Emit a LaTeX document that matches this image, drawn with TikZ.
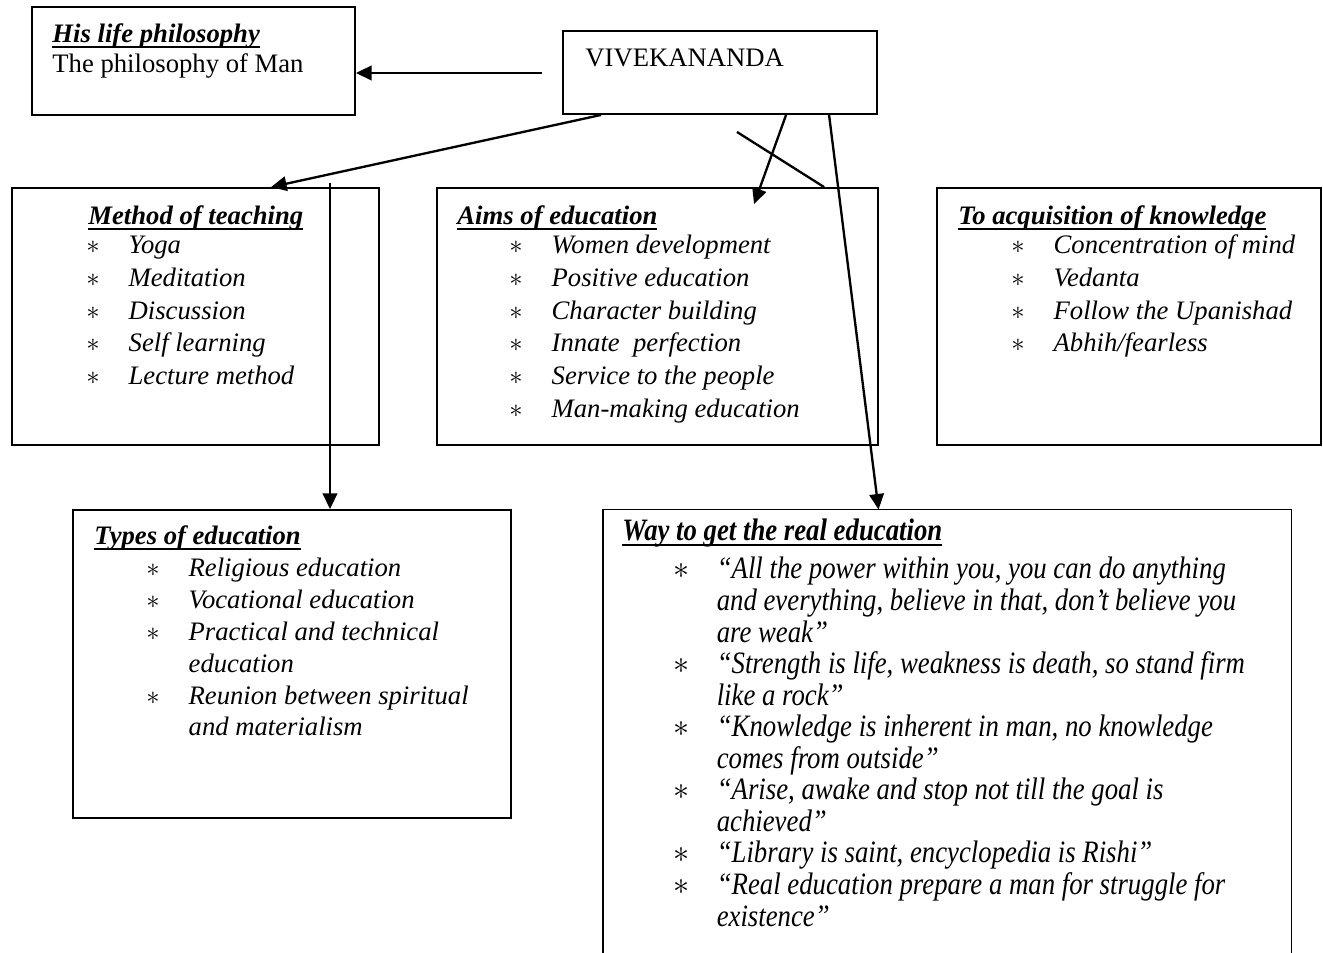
\documentclass[tikz,border=0pt]{standalone}
\usepackage{fontspec}
\setmainfont{Liberation Serif}
\newfontfamily\wayfont{Liberation Serif}[FakeStretch=0.86]
\usetikzlibrary{arrows.meta,calc,fit}
\newsavebox{\hdbox}
\newcommand{\hd}[1]{\sbox{\hdbox}{\textbf{\textit{#1}}}\rlap{\rule[-2.2pt]{\wd\hdbox}{0.9pt}}\usebox{\hdbox}}
\newcommand{\astr}{$\ast$}
\tikzset{
	box/.style={draw, line width=0.85pt, inner sep=0pt},
	arr/.style={line width=1.05pt, -{Triangle[length=7pt,width=6.5pt]}},
	hdtxt/.style={anchor=base west, inner sep=0pt, font=\fontsize{12}{13.5}\selectfont},
	lst/.style={anchor=base west, inner sep=0pt, font=\fontsize{12}{14.7}\selectfont\itshape},
	waylst/.style={anchor=base west, inner sep=0pt, font=\wayfont\fontsize{14}{14.2}\selectfont\itshape}
}
\begin{document}
\begin{tikzpicture}[x=0.45pt, y=-0.45pt]
	\useasboundingbox[fill=white] (0,0) rectangle (1323,953);
	% boxes
	\node[box, fit={(32,7) (355,115)}] (life) {};
	\node[box, fit={(563,31) (877,114)}] (viv) {};
	\node[box, fit={(12,188) (379,445)}] (method) {};
	\node[box, fit={(437,188) (878,445)}] (aims) {};
	\node[box, fit={(937,188) (1321,445)}] (know) {};
	\node[box, fit={(73,510) (511,818)}] (types) {};
	\node[inner sep=0pt, fit={(603,510) (1291,960)}] (way) {};
	\draw[line width=0.85pt] (way.south west) -- (way.north west) -- (way.north east) -- (way.south east);
	% texts
	\node[hdtxt] (lifehd) at (52,43) {\hd{His life philosophy}};
	\node[hdtxt] (lifetxt) at (52,73) {The philosophy of Man};
	\node[hdtxt] (vivtxt) at (585,67) {VIVEKANANDA};
	\node[hdtxt] (methodhd) at (88,225) {\hd{Method of teaching}};
	\node[lst] (methodlst) at (86,254) {\begin{tabular}[t]{@{}p{19pt}@{}l@{}}
		\astr & Yoga\\ \astr & Meditation\\ \astr & Discussion\\
		\astr & Self learning\\ \astr & Lecture method
	\end{tabular}};
	\node[hdtxt] (aimshd) at (457,225) {\hd{Aims of education}};
	\node[lst] (aimslst) at (509,254) {\begin{tabular}[t]{@{}p{19pt}@{}l@{}}
		\astr & Women development\\ \astr & Positive education\\ \astr & Character building\\
		\astr & Innate\ \ perfection\\ \astr & Service to the people\\ \astr & Man-making education
	\end{tabular}};
	\node[hdtxt] (knowhd) at (958,225) {\hd{To acquisition of knowledge}};
	\node[lst] (knowlst) at (1011,254) {\begin{tabular}[t]{@{}p{19pt}@{}l@{}}
		\astr & Concentration of mind\\ \astr & Vedanta\\
		\astr & Follow the Upanishad\\ \astr & Abhih/fearless
	\end{tabular}};
	\node[hdtxt] (typeshd) at (94,545) {\hd{Types of education}};
	\node[lst, font=\fontsize{12}{14.3}\selectfont\itshape] (typeslst) at (146,577) {\begin{tabular}[t]{@{}p{19pt}@{}l@{}}
		\astr & Religious education\\ \astr & Vocational education\\
		\astr & Practical and technical\\ & education\\
		\astr & Reunion between spiritual\\ & and materialism
	\end{tabular}};
	\node[hdtxt, font=\wayfont\fontsize{14}{14.2}\selectfont] (wayhd) at (622,541) {\hd{Way to get the real education}};
	\node[waylst] (waylst) at (673,579) {\begin{tabular}[t]{@{}p{19.5pt}@{}l@{}}
		\astr & “All the power within you, you can do anything\\
		& and everything, believe in that, don’t believe you\\
		& are weak”\\
		\astr & “Strength is life, weakness is death, so stand firm\\
		& like a rock”\\
		\astr & “Knowledge is inherent in man, no knowledge\\
		& comes from outside”\\
		\astr & “Arise, awake and stop not till the goal is\\
		& achieved”\\
		\astr & “Library is saint, encyclopedia is Rishi”\\
		\astr & “Real education prepare a man for struggle for\\
		& existence”
	\end{tabular}};
	% connectors
	\coordinate (lifefrom) at (542,73);
	\draw[arr] (lifefrom) -- (life.east |- lifefrom);
	\draw[arr] ($(viv.south west)+(39,0)$) -- ($(method.north west)+(260,0)$);
	\draw[arr] ($(viv.south west)+(224,0)$) -- ($(aims.north west)+(318,17)$);
	\draw[arr] ($(viv.south west)+(267,0)$) -- ($(way.north west)+(276,0)$);
	\coordinate (crossfrom) at (737,132);
	\draw[line width=1.05pt] (crossfrom) -- ($(aims.north west)+(388,0)$);
	\coordinate (typesfrom) at (330,183);
	\draw[arr] (typesfrom) -- (typesfrom |- types.north);
\end{tikzpicture}
\end{document}
